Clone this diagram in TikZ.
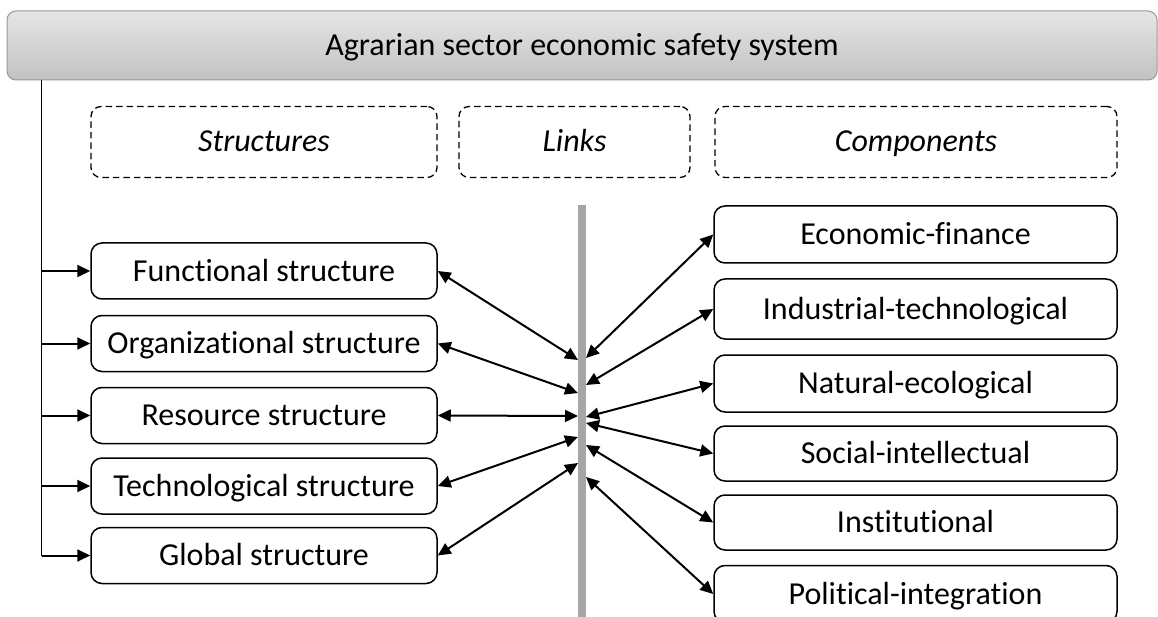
\documentclass[tikz,border=0pt]{standalone}
\usepackage{fontspec}
\setmainfont[Ligatures=NoCommon]{Carlito}
\usetikzlibrary{arrows.meta}
\begin{document}
\begin{tikzpicture}[x=1pt,y=-1pt,
  txt/.style={font=\fontsize{32}{38}\selectfont, text height=20.5pt, text depth=0pt},
  titlebar/.style={draw=black!40, line width=1pt, rounded corners=9pt, top color=black!10, bottom color=black!24, minimum width=1150pt, minimum height=69pt, inner sep=0pt, txt},
  hdr/.style={draw=black, line width=1.3pt, dash pattern=on 6.5pt off 4pt, rounded corners=10pt, minimum height=71pt, inner sep=0pt, font=\fontsize{32}{38}\selectfont\itshape, text height=20pt, text depth=0pt},
  lbox/.style={draw=black, line width=1.5pt, rounded corners=11pt, minimum width=346pt, minimum height=56pt, inner sep=0pt, txt},
  rbox/.style={draw=black, line width=1.5pt, rounded corners=11pt, minimum width=403pt, minimum height=57pt, inner sep=0pt, txt},
  conn/.style={line width=2pt, -{Triangle[length=13pt,width=12pt]}},
  dconn/.style={line width=2pt, {Triangle[length=13pt,width=12pt]}-{Triangle[length=13pt,width=12pt]}},
  grayline/.style={line width=8pt, draw=black!35}
]
\useasboundingbox (0,0) rectangle (1158,617);
\clip (0,0) rectangle (1158,617);

% title
\node[titlebar] (top) at (582,45.5) {Agrarian sector economic safety system};

% headers
\node[hdr, minimum width=346pt] (hs) at (264,142) {Structures};
\node[hdr, minimum width=231pt] (hl) at (574.5,142) {Links};
\node[hdr, minimum width=402pt] (hc) at (916,142) {Components};

% left boxes
\node[lbox] (f) at (264,271) {Functional structure};
\node[lbox] (o) at (264,343.5) {Organizational structure};
\node[lbox] (r) at (264,415.5) {Resource structure};
\node[lbox] (t) at (264,486) {Technological structure};
\node[lbox] (g) at (264,555.5) {Global structure};

% right boxes
\node[rbox] (e) at (915.5,234.5) {Economic-finance};
\node[rbox, minimum height=60pt] (i) at (915.5,309) {Industrial-technological};
\node[rbox] (n) at (915.5,383.5) {Natural-ecological};
\node[rbox, minimum height=55pt] (s) at (915.5,453.5) {Social-intellectual};
\node[rbox, minimum height=55pt] (in) at (915.5,522.5) {Institutional};
\node[rbox] (p) at (915.5,594) {Political-integration};

% gray links line
\coordinate (gtop) at (582,205);
\coordinate (gbot) at (582,617);
\draw[grayline] (gtop) -- (gbot);

% trunk
\coordinate (tr) at (41.5,80);
\draw[line width=1.7pt] (tr) |- (g.west);
\draw[conn] (tr |- g.west) -- (g.west);
\draw[conn] (tr |- f.west) -- (f.west);
\draw[conn] (tr |- o.west) -- (o.west);
\draw[conn] (tr |- r.west) -- (r.west);
\draw[conn] (tr |- t.west) -- (t.west);

% left link endpoints
\coordinate (L1) at (578,360);
\coordinate (L2) at (578,393);
\coordinate (L3) at (578,416);
\coordinate (L4) at (578,437);
\coordinate (L5) at (578,463);
\draw[dconn] (f.east) -- (L1);
\draw[dconn] (o.east) -- (L2);
\draw[dconn] (r.east) -- (L3);
\draw[dconn] (t.east) -- (L4);
\draw[dconn] (g.east) -- (L5);

% right link endpoints
\coordinate (R1) at (586,358);
\coordinate (R2) at (586,385);
\coordinate (R3) at (586,417);
\coordinate (R4) at (586,423);
\coordinate (R5) at (586,445);
\coordinate (R6) at (586,477);
\draw[dconn] (R1) -- (e.west);
\draw[dconn] (R2) -- (i.west);
\draw[dconn] (R3) -- (n.west);
\draw[dconn] (R4) -- (s.west);
\draw[dconn] (R5) -- (in.west);
\draw[dconn] (R6) -- (p.west);
\end{tikzpicture}
\end{document}
